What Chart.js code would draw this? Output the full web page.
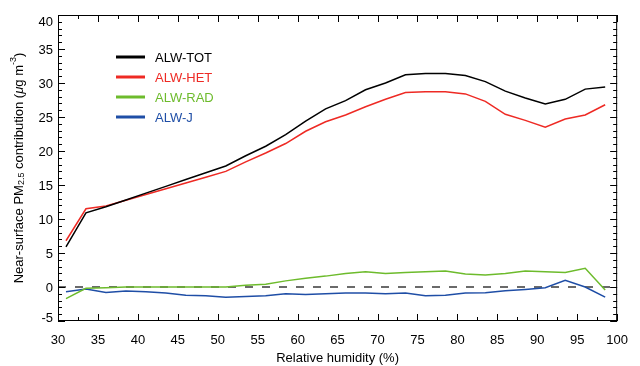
<!DOCTYPE html>
<html>
<head>
<meta charset="utf-8">
<script src="https://cdn.jsdelivr.net/npm/chart.js@4/dist/chart.umd.min.js"></script>
<style>
  html, body { margin: 0; padding: 0; background: #fff; }
  #wrap { width: 640px; height: 366px; }
</style>
</head>
<body>
<div id="wrap"><canvas id="c" width="640" height="366"></canvas></div>
<script>
(function () {
  "use strict";

  // ── Data ────────────────────────────────────────────────────────────────
  const RH      = [31, 33.5, 36, 38.5, 41, 43.5, 46, 48.5, 51, 53.5, 56, 58.5, 61, 63.5,
                   66, 68.5, 71, 73.5, 76, 78.5, 81, 83.5, 86, 88.5, 91, 93.5, 96, 98.5];
  const ALW_TOT = [5.9, 10.9, 11.8, 12.8, 13.8, 14.8, 15.8, 16.8, 17.8, 19.3, 20.7, 22.4, 24.4, 26.2,
                   27.4, 29.0, 30.0, 31.2, 31.4, 31.4, 31.1, 30.2, 28.8, 27.8, 26.9, 27.6, 29.1, 29.4];
  const ALW_HET = [6.8, 11.5, 11.9, 12.75, 13.6, 14.45, 15.3, 16.15, 17.0, 18.4, 19.7, 21.1, 22.9, 24.3,
                   25.3, 26.5, 27.6, 28.6, 28.7, 28.7, 28.4, 27.3, 25.4, 24.5, 23.5, 24.7, 25.3, 26.8];
  const ALW_RAD = [-1.7, -0.2, -0.1, 0, 0, 0, 0, 0, 0, 0.25, 0.4, 0.9, 1.3, 1.6,
                   2.0, 2.25, 2.0, 2.15, 2.25, 2.35, 1.9, 1.75, 2.0, 2.35, 2.25, 2.15, 2.75, -0.45];
  const ALW_J   = [-0.7, -0.3, -0.8, -0.6, -0.7, -0.9, -1.2, -1.3, -1.5, -1.4, -1.3, -1.0, -1.1, -1.0,
                   -0.9, -0.9, -1.0, -0.9, -1.3, -1.2, -0.9, -0.85, -0.55, -0.35, -0.1, 1.0, 0, -1.5];

  const SERIES_LABELS = ["ALW-TOT", "ALW-HET", "ALW-RAD", "ALW-J"];
  const SERIES_COLORS = ["#000000", "#ee2a24", "#6dbb2c", "#1f4ea6"];
  const SERIES_VALUES = [ALW_TOT, ALW_HET, ALW_RAD, ALW_J];

  const X_MIN = 30, X_MAX = 100, X_STEP = 5;
  const Y_MIN = -5, Y_MAX = 40, Y_STEP = 5;

  const FONT = "'Liberation Sans', Arial, Helvetica, sans-serif";

  const datasets = SERIES_VALUES.map((vals, i) => ({
    label: SERIES_LABELS[i],
    data: vals.map((v, k) => ({ x: RH[k], y: v })),
    borderColor: SERIES_COLORS[i],
    backgroundColor: SERIES_COLORS[i],
    borderWidth: 1.5,
    pointRadius: 0,
    tension: 0,
    fill: false,
  }));

  // ── Frame, inward ticks, zero line, legend, axis titles ─────────────────
  const decorPlugin = {
    id: "decor",
    beforeDatasetsDraw(chart) {
      const { ctx, chartArea: a, scales: { y } } = chart;
      const y0 = y.getPixelForValue(0);
      ctx.save();
      ctx.strokeStyle = "#6a6a6a";
      ctx.lineWidth = 2;
      ctx.setLineDash([8, 9]);
      ctx.beginPath();
      ctx.moveTo(a.left, y0);
      ctx.lineTo(a.right, y0);
      ctx.stroke();
      ctx.restore();
    },
    afterDraw(chart) {
      const { ctx, chartArea: a, scales: { x, y } } = chart;
      ctx.save();

      // frame
      ctx.strokeStyle = "#000";
      ctx.lineWidth = 1;
      ctx.strokeRect(a.left + 0.5, a.top + 0.5, a.right - a.left - 1, a.bottom - a.top - 1);

      // x ticks (major every 5, minor every 2.5)
      const MAJ = 7, MIN = 4;
      ctx.beginPath();
      for (let v = X_MIN; v <= X_MAX + 1e-9; v += X_STEP / 2) {
        const px = Math.round(x.getPixelForValue(v)) + 0.5;
        const len = (Math.abs(v / X_STEP - Math.round(v / X_STEP)) < 1e-6) ? MAJ : MIN;
        ctx.moveTo(px, a.bottom); ctx.lineTo(px, a.bottom - len);
        ctx.moveTo(px, a.top);    ctx.lineTo(px, a.top + len);
      }
      // y ticks (major every 5, minor every 1)
      for (let v = Y_MIN; v <= Y_MAX + 1e-9; v += 1) {
        const py = Math.round(y.getPixelForValue(v)) + 0.5;
        const len = (v % Y_STEP === 0) ? MAJ : MIN;
        ctx.moveTo(a.left, py);  ctx.lineTo(a.left + len, py);
        ctx.moveTo(a.right, py); ctx.lineTo(a.right - len, py);
      }
      ctx.stroke();

      // y tick labels (end labels kept inside the frame, like the original)
      ctx.font = "13px " + FONT;
      ctx.fillStyle = "#000";
      ctx.textAlign = "right";
      ctx.textBaseline = "middle";
      y.ticks.forEach(t => {
        let py = y.getPixelForValue(t.value);
        py = Math.min(Math.max(py, a.top + 6), a.bottom - 4);
        ctx.fillText(String(t.value), a.left - 5, py + 1);
      });

      // legend
      ctx.textAlign = "left";
      chart.data.datasets.forEach((ds, i) => {
        const ry = 57 + i * 20;
        ctx.strokeStyle = ds.borderColor;
        ctx.lineWidth = 3;
        ctx.beginPath();
        ctx.moveTo(116, ry); ctx.lineTo(145, ry);
        ctx.stroke();
        ctx.fillStyle = ds.borderColor;
        ctx.fillText(ds.label, 155, ry + 1);
      });

      // x title
      ctx.fillStyle = "#000";
      ctx.textAlign = "center";
      ctx.fillText("Relative humidity (%)", (a.left + a.right) / 2, 358);

      // y title with sub/superscripts
      const parts = [
        { t: "Near-surface PM", f: "13px " + FONT, dy: 0 },
        { t: "2.5", f: "9px " + FONT, dy: 3 },
        { t: " contribution (", f: "13px " + FONT, dy: 0 },
        { t: "\u03bc", f: "italic 13px " + FONT, dy: 0 },
        { t: "g m", f: "13px " + FONT, dy: 0 },
        { t: "-3", f: "9px " + FONT, dy: -5 },
        { t: ")", f: "13px " + FONT, dy: 0 },
      ];
      let total = 0;
      parts.forEach(p => { ctx.font = p.f; p.w = ctx.measureText(p.t).width; total += p.w; });
      ctx.translate(19, (a.top + a.bottom) / 2);
      ctx.rotate(-Math.PI / 2);
      ctx.textAlign = "left";
      let cx = -total / 2;
      parts.forEach(p => {
        ctx.font = p.f;
        ctx.fillText(p.t, cx, p.dy);
        cx += p.w;
      });
      ctx.restore();
    },
  };

  new Chart(document.getElementById("c"), {
    type: "line",
    data: { datasets },
    options: {
      responsive: false,
      animation: false,
      devicePixelRatio: 1,
      layout: { padding: { top: 15, right: 12, left: 0, bottom: 0 } },
      plugins: { legend: { display: false }, tooltip: { enabled: false } },
      scales: {
        x: {
          type: "linear",
          min: X_MIN, max: X_MAX,
          afterFit: s => { s.height = 45; },
          grid: { drawOnChartArea: false, drawTicks: false },
          border: { display: false },
          ticks: { stepSize: X_STEP, autoSkip: false, maxRotation: 0, padding: 12,
                   color: "#000", font: { family: FONT, size: 13 } },
        },
        y: {
          min: Y_MIN, max: Y_MAX,
          afterFit: s => { s.width = 58; },
          grid: { drawOnChartArea: false, drawTicks: false },
          border: { display: false },
          ticks: { stepSize: Y_STEP, display: false },
        },
      },
    },
    plugins: [decorPlugin],
  });
})();
</script>
</body>
</html>
